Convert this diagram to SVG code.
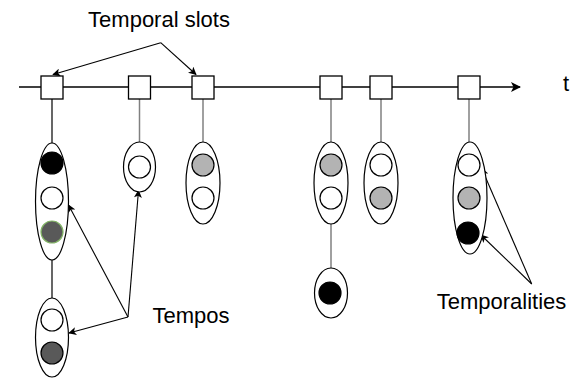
<svg xmlns="http://www.w3.org/2000/svg" width="574" height="381" viewBox="0 0 574 381">
<style>
.lbl{font-family:"Liberation Sans",Arial,sans-serif;font-size:22px;fill:#000}
.slot{fill:#fff;stroke:#000;stroke-width:1.3}
.ell{fill:#fff;stroke:#000;stroke-width:1.2}
.c{stroke:#000;stroke-width:1.2}
.w{fill:#fff}
.g{fill:#b3b3b3}
.b{fill:#000}
.d{fill:#595959}
.vl{stroke:#808080;stroke-width:1.5;fill:none}
.ar{stroke:#000;stroke-width:1.1;fill:none;marker-end:url(#ah)}
</style>
<defs>
<marker id="ah" viewBox="0 0 10 10" refX="9" refY="5" markerWidth="9" markerHeight="8" markerUnits="userSpaceOnUse" orient="auto">
<path d="M0,0 L10,5 L0,10 L2.5,5 Z" fill="#000"/>
</marker>
<marker id="ah2" viewBox="0 0 10 10" refX="9" refY="5" markerWidth="12" markerHeight="10" markerUnits="userSpaceOnUse" orient="auto">
<path d="M0,0 L10,5 L0,10 L2.5,5 Z" fill="#000"/>
</marker>
</defs>
<g id="connectors">
<line x1="19" y1="87" x2="520" y2="87" stroke="#000" stroke-width="1.3" marker-end="url(#ah2)"/>
<line x1="52" y1="99" x2="52" y2="143" stroke="#000" stroke-width="1.2"/>
<line x1="52" y1="260" x2="52" y2="298" stroke="#000" stroke-width="1.2"/>
<line class="vl" x1="139.5" y1="99" x2="139.5" y2="142"/>
<line class="vl" x1="203" y1="99" x2="203" y2="142"/>
<line class="vl" x1="331" y1="99" x2="331" y2="142"/>
<line class="vl" x1="331" y1="224" x2="331" y2="268"/>
<line class="vl" x1="381" y1="99" x2="381" y2="142"/>
<line class="vl" x1="469" y1="99" x2="469" y2="142"/>
<line class="ar" x1="160.7" y1="42.7" x2="53" y2="74.5"/>
<line class="ar" x1="160.7" y1="42.7" x2="196" y2="74.5"/>
<line class="ar" x1="128" y1="317" x2="68.5" y2="205"/>
<line class="ar" x1="128" y1="317" x2="138.5" y2="190.5"/>
<line class="ar" x1="128" y1="317" x2="69" y2="333"/>
<line class="ar" x1="531.7" y1="284" x2="481.7" y2="168.5"/>
<line class="ar" x1="531.7" y1="284" x2="481" y2="235"/>
</g>
<g id="slot1"><rect class="slot" x="41" y="76" width="22" height="23"/></g>
<g id="slot2"><rect class="slot" x="128.5" y="76" width="22" height="23"/></g>
<g id="slot3"><rect class="slot" x="192" y="76" width="22" height="23"/></g>
<g id="slot4"><rect class="slot" x="320" y="76" width="22" height="23"/></g>
<g id="slot5"><rect class="slot" x="370" y="76" width="22" height="23"/></g>
<g id="slot6"><rect class="slot" x="458" y="76" width="22" height="23"/></g>
<g id="tempo1a">
<ellipse class="ell" cx="52" cy="201.5" rx="16.5" ry="58.5"/>
<circle class="c b" cx="52" cy="163" r="11"/>
<circle class="c w" cx="52" cy="198" r="11"/>
<circle class="d" cx="52" cy="232" r="11" stroke="#82b366" stroke-width="1.2"/>
</g>
<g id="tempo1b">
<ellipse class="ell" cx="52" cy="337.5" rx="16.5" ry="39.5"/>
<circle class="c w" cx="52" cy="320" r="11"/>
<circle class="c d" cx="52" cy="353" r="11"/>
</g>
<g id="tempo2">
<ellipse class="ell" cx="139.5" cy="167" rx="16" ry="25"/>
<circle class="c w" cx="139.5" cy="167" r="11"/>
</g>
<g id="tempo3">
<ellipse class="ell" cx="203" cy="183" rx="17" ry="41"/>
<circle class="c g" cx="203" cy="165" r="11"/>
<circle class="c w" cx="203" cy="198" r="11"/>
</g>
<g id="tempo4a">
<ellipse class="ell" cx="331" cy="183" rx="17" ry="41"/>
<circle class="c g" cx="331" cy="165" r="11"/>
<circle class="c w" cx="331" cy="198" r="11"/>
</g>
<g id="tempo4b">
<ellipse class="ell" cx="331" cy="293" rx="16.5" ry="25"/>
<circle class="c b" cx="330" cy="293" r="11"/>
</g>
<g id="tempo5">
<ellipse class="ell" cx="381" cy="183" rx="17" ry="41"/>
<circle class="c w" cx="381" cy="165" r="11"/>
<circle class="c g" cx="381" cy="198" r="11"/>
</g>
<g id="tempo6">
<ellipse class="ell" cx="470" cy="198" rx="17" ry="56"/>
<circle class="c w" cx="469" cy="165" r="11"/>
<circle class="c g" cx="469" cy="198" r="11"/>
<circle class="c b" cx="468" cy="233" r="11"/>
</g>
<g id="labels">
<text class="lbl" x="159" y="27" text-anchor="middle">Temporal slots</text>
<text class="lbl" x="191" y="323" text-anchor="middle">Tempos</text>
<text class="lbl" x="501.5" y="309" text-anchor="middle">Temporalities</text>
<text class="lbl" x="563" y="91">t</text>
</g>
</svg>
